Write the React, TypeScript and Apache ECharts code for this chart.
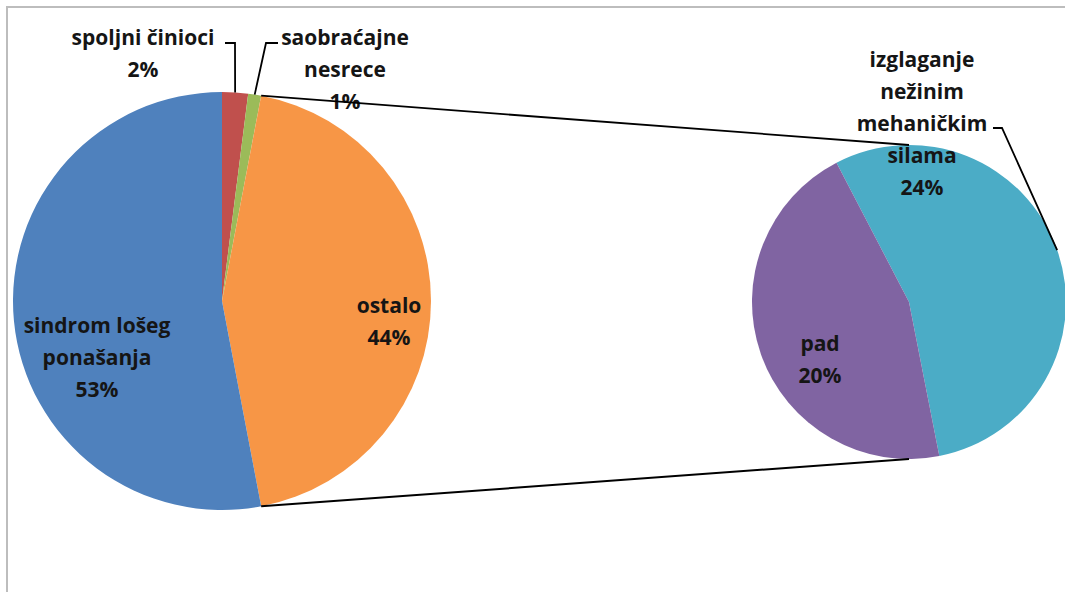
import React, { useEffect, useRef } from "react";
import * as echarts from "echarts";

const LEFT_NAMES = ["spoljni činioci", "saobraćajne\nnesrece", "ostalo", "sindrom lošeg\nponašanja"];
const LEFT_VALUES = [2, 1, 44, 53];
const LEFT_COLORS = ["#C0504D", "#9BBB59", "#F79646", "#4F81BD"];

const RIGHT_NAMES = ["izglaganje\nnežinim\nmehaničkim\nsilama", "pad"];
const RIGHT_VALUES = [24, 20];
const RIGHT_COLORS = ["#4BACC6", "#8064A2"];

// layout
const L = { cx: 222, cy: 301, r: 209, start: 90 };
const R = { cx: 909, cy: 302, r: 157, start: 117.5 };
const LEFT_LABEL_POS = [[143, 53], [345, 69], [389, 321], [97, 357]];
const RIGHT_LABEL_POS = [[922, 123], [820, 359]];
// leader lines: [labelEdge, elbow] for slices with leaders
const LEFT_LEADERS: Record<number, number[][]> = { 0: [[225, 43], [235, 43]], 1: [[278, 43], [266, 43]] };
const RIGHT_LEADERS: Record<number, number[][]> = { 0: [[993, 128], [1002, 128]] };

function pointAt(p: { cx: number; cy: number; r: number; start: number }, values: number[], frac: number) {
  const total = values.reduce((a, b) => a + b, 0);
  const a = ((p.start - (frac / total) * 360) * Math.PI) / 180;
  return [p.cx + p.r * Math.cos(a), p.cy - p.r * Math.sin(a)];
}
function cum(values: number[], i: number) {
  let s = 0;
  for (let k = 0; k < i; k++) s += values[k];
  return s;
}

const FONT = "'Open Sans', Lato, sans-serif";
const labelStyle = {
  show: true,
  position: "inside" as const,
  fontFamily: FONT,
  fontWeight: "bold" as const,
  fontSize: 21,
  lineHeight: 32,
  color: "#151515",
  align: "center" as const,
  formatter: (p: any) => `${p.name}\n${p.value}%`,
};

export default function App() {
  const ref = useRef<HTMLDivElement>(null);
  useEffect(() => {
    if (!ref.current) return;
    const chart = echarts.init(ref.current, undefined, { renderer: "svg" });

    const lines: any[] = [];
    Object.keys(LEFT_LEADERS).forEach((k) => {
      const i = Number(k);
      const anchor = pointAt(L, LEFT_VALUES, cum(LEFT_VALUES, i) + LEFT_VALUES[i] / 2);
      lines.push({
        type: "polyline",
        z: 100,
        shape: { points: [...LEFT_LEADERS[i], anchor] },
        style: { stroke: "#000", lineWidth: 1.8, fill: "none" },
      });
    });
    Object.keys(RIGHT_LEADERS).forEach((k) => {
      const i = Number(k);
      const anchor = pointAt(R, RIGHT_VALUES, cum(RIGHT_VALUES, i) + RIGHT_VALUES[i] / 2);
      lines.push({
        type: "polyline",
        z: 100,
        shape: { points: [...RIGHT_LEADERS[i], anchor] },
        style: { stroke: "#000", lineWidth: 1.8, fill: "none" },
      });
    });
    // connectors: the "ostalo" slice boundaries to the top/bottom of second pie
    const oi = 2;
    const topPt = pointAt(L, LEFT_VALUES, cum(LEFT_VALUES, oi));
    const botPt = pointAt(L, LEFT_VALUES, cum(LEFT_VALUES, oi + 1));
    lines.push({
      type: "line",
      z: 100,
      shape: { x1: topPt[0], y1: topPt[1], x2: R.cx, y2: R.cy - R.r },
      style: { stroke: "#000", lineWidth: 1.8 },
    });
    lines.push({
      type: "line",
      z: 100,
      shape: { x1: botPt[0], y1: botPt[1], x2: R.cx, y2: R.cy + R.r },
      style: { stroke: "#000", lineWidth: 2 },
    });

    chart.setOption({
      animation: false,
      backgroundColor: "#ffffff",
      graphic: [
        {
          type: "rect",
          z: 0,
          shape: { x: 7, y: 7, width: 1200, height: 700 },
          style: { fill: "none", stroke: "#bdbdbd", lineWidth: 2 },
        },
        ...lines,
      ],
      series: [
        {
          type: "pie",
          center: [L.cx, L.cy],
          radius: L.r,
          startAngle: L.start,
          clockwise: true,
          avoidLabelOverlap: false,
          silent: true,
          label: labelStyle,
          labelLine: { show: false },
          labelLayout: (p: any) => ({
            x: LEFT_LABEL_POS[p.dataIndex][0],
            y: LEFT_LABEL_POS[p.dataIndex][1],
            align: "center",
            verticalAlign: "middle",
          }),
          itemStyle: { borderWidth: 0 },
          data: LEFT_VALUES.map((v, i) => ({ name: LEFT_NAMES[i], value: v, itemStyle: { color: LEFT_COLORS[i] } })),
        },
        {
          type: "pie",
          center: [R.cx, R.cy],
          radius: R.r,
          startAngle: R.start,
          clockwise: true,
          avoidLabelOverlap: false,
          silent: true,
          label: labelStyle,
          labelLine: { show: false },
          labelLayout: (p: any) => ({
            x: RIGHT_LABEL_POS[p.dataIndex][0],
            y: RIGHT_LABEL_POS[p.dataIndex][1],
            align: "center",
            verticalAlign: "middle",
          }),
          itemStyle: { borderWidth: 0 },
          data: RIGHT_VALUES.map((v, i) => ({ name: RIGHT_NAMES[i], value: v, itemStyle: { color: RIGHT_COLORS[i] } })),
        },
      ],
    });
    return () => chart.dispose();
  }, []);
  return (
    <div
      ref={ref}
      style={{ position: "fixed", left: 0, top: 0, width: 1065, height: 592, background: "#fff" }}
    />
  );
}
